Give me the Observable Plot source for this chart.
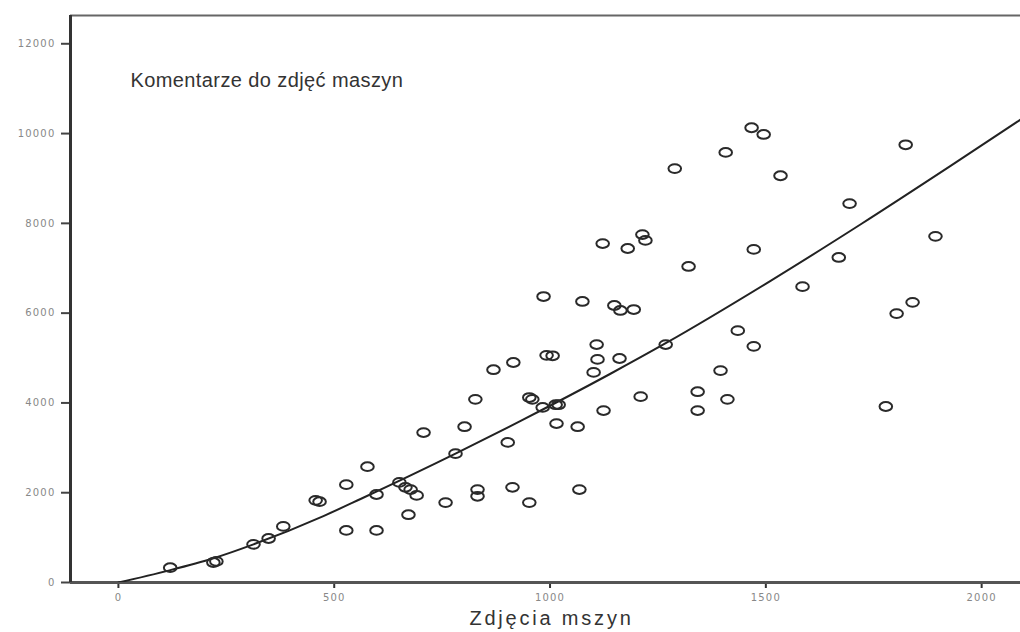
<!DOCTYPE html>
<html>
<head>
<meta charset="utf-8">
<script src="https://cdn.jsdelivr.net/npm/d3@7"></script>
<script src="https://cdn.jsdelivr.net/npm/@observablehq/plot@0.6"></script>
<style>
  html, body { margin: 0; padding: 0; background: #fff; }
</style>
</head>
<body>
<div id="chart"></div>
<script>
const titleText = "Komentarze do zdjęć maszyn";
const xLabel = "Zdjęcia mszyn";

const photoX = [120,220,227,313,348,382,457,466,528,528,577,598,598,651,665,677,672,691,707,758,781,802,827,832,832,869,902,913,915,952,959,952,983,992,1006,1013,1020,1015,1064,1068,1101,1110,1108,1124,985,1075,1122,1149,1163,1194,1161,1180,1214,1221,1210,1268,1289,1321,1342,1342,1395,1411,1407,1435,1467,1472,1472,1495,1534,1585,1669,1694,1778,1803,1824,1840,1893];
const commentY = [330,445,470,850,980,1250,1830,1800,2180,1160,2580,1960,1160,2230,2120,2070,1510,1940,3340,1780,2870,3470,4080,2070,1920,4740,3120,2120,4900,4120,4080,1780,3900,5060,5050,3960,3960,3540,3470,2070,4680,4970,5300,3830,6370,6260,7550,6170,6060,6080,4990,7440,7750,7620,4140,5300,9220,7040,4250,3830,4720,4080,9580,5610,10130,7420,5260,9980,9060,6590,7240,8440,3920,5990,9750,6240,7710];

const fitX = [0,116,220,313,475,561,781,932,1140,1268,1511,1720,1928,2090];
const fitY = [0,265,540,850,1480,1860,2870,3600,4650,5330,6720,7980,9280,10310];

const xTicks = [0,500,1000,1500,2000];
const yTicks = [0,2000,4000,6000,8000,10000,12000];

const xDomain = [-111, 2090];
const yDomain = [0, 12630];

const points = photoX.map((x, i) => ({x, y: commentY[i]}));
const fit = fitX.map((x, i) => ({x, y: fitY[i]}));

// ellipse-shaped open marker (as in the reference)
const K = 0.5523;
const ellipse = {
  draw(ctx) {
    const rx = 6.3, ry = 4.4;
    ctx.moveTo(rx, 0);
    ctx.bezierCurveTo(rx, ry*K, rx*K, ry, 0, ry);
    ctx.bezierCurveTo(-rx*K, ry, -rx, ry*K, -rx, 0);
    ctx.bezierCurveTo(-rx, -ry*K, -rx*K, -ry, 0, -ry);
    ctx.bezierCurveTo(rx*K, -ry, rx, -ry*K, rx, 0);
    ctx.closePath();
  }
};

const chart = Plot.plot({
  width: 1020,
  height: 632,
  marginLeft: 70,
  marginTop: 15,
  marginRight: 0,
  marginBottom: 50,
  x: {domain: xDomain},
  y: {domain: yDomain},
  style: {fontFamily: "'Liberation Sans', Arial, sans-serif", background: "#fff", overflow: "visible"},
  marks: [
    Plot.axisY({ticks: yTicks, tickSize: 9, tickPadding: 6, fontSize: 10, tickFormat: d => String(d),
      stroke: "#444", strokeWidth: 2, fill: "#888", label: null, fontFamily: "'DejaVu Sans', sans-serif"}),
    Plot.axisX({ticks: xTicks, tickSize: 6, tickPadding: 5, fontSize: 10, tickFormat: d => String(d),
      stroke: "#333", strokeWidth: 2, fill: "#888", label: null, fontFamily: "'DejaVu Sans', sans-serif"}),
    Plot.ruleY([yDomain[1]], {stroke: "#666", strokeWidth: 2}),
    Plot.ruleY([0], {stroke: "#555", strokeWidth: 3}),
    Plot.ruleX([xDomain[0]], {stroke: "#333", strokeWidth: 3}),
    Plot.line(fit, {x: "x", y: "y", stroke: "#222", strokeWidth: 2, curve: "monotone-x", clip: true}),
    Plot.dot(points, {x: "x", y: "y", symbol: ellipse, fill: "none", stroke: "#2a2a2a", strokeWidth: 2}),
    Plot.text([titleText], {frameAnchor: "top-left", dx: 60, dy: 57, textAnchor: "start", fontSize: 20, fill: "#333"}),
    Plot.text([xLabel], {frameAnchor: "bottom", dx: 6, dy: 42, fontSize: 20, fill: "#333"})
  ]
});
// letter spacing tweaks (the reference glyphs are horizontally wide)
d3.select(chart).selectAll("text").each(function() {
  const t = this.textContent;
  if (t === xLabel) this.style.letterSpacing = "2.8px";
  else if (t === titleText) this.style.letterSpacing = "0.4px";
  else if (/^\d+$/.test(t)) this.style.letterSpacing = "1.2px";
});
document.getElementById("chart").appendChild(chart);
</script>
</body>
</html>
